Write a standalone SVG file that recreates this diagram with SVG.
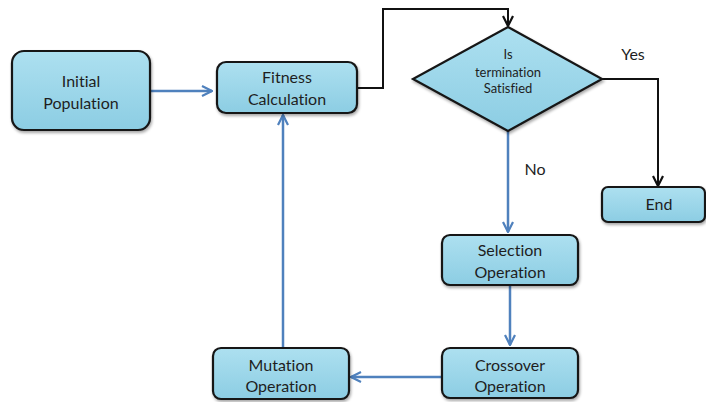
<svg xmlns="http://www.w3.org/2000/svg" width="706" height="402" viewBox="0 0 706 402">
<defs>
<linearGradient id="g" x1="0" y1="0" x2="0" y2="1">
<stop offset="0" stop-color="#ade0f0"/>
<stop offset="1" stop-color="#8ccde3"/>
</linearGradient>
<filter id="sh" x="-10%" y="-10%" width="130%" height="140%">
<feGaussianBlur in="SourceAlpha" stdDeviation="1.5"/>
<feOffset dx="1" dy="2" result="b"/>
<feComponentTransfer><feFuncA type="linear" slope="0.35"/></feComponentTransfer>
<feMerge><feMergeNode/><feMergeNode in="SourceGraphic"/></feMerge>
</filter>
<marker id="ab" viewBox="0 0 12 12" refX="11" refY="6" markerWidth="12" markerHeight="12" markerUnits="userSpaceOnUse" orient="auto">
<path d="M1,1 L11,6 L1,11" fill="none" stroke="#4f81bd" stroke-width="2.2"/>
</marker>
<marker id="ak" viewBox="0 0 12 12" refX="11" refY="6" markerWidth="12" markerHeight="12" markerUnits="userSpaceOnUse" orient="auto">
<path d="M1,1 L11,6 L1,11" fill="none" stroke="#111" stroke-width="2.2"/>
</marker>
</defs>
<style>
.box{fill:url(#g);stroke:#151515;stroke-width:2.2;filter:url(#sh)}
.t{font-family:Lato,"Open Sans","Liberation Sans",sans-serif;font-size:16px;fill:#1e1e1e;text-anchor:middle;font-variant-ligatures:none}
.s{font-size:13px}
.blue{fill:none;stroke:#4f81bd;stroke-width:2.5;marker-end:url(#ab)}
.blk{fill:none;stroke:#111;stroke-width:2;marker-end:url(#ak)}
</style>
<rect width="706" height="402" fill="#fff"/>
<g id="connectors">
<path class="blue" d="M150,91 H212"/>
<path class="blk" d="M357,88 H383 V9 H508 V26"/>
<path class="blk" d="M602,79 H658 V186"/>
<path class="blue" d="M508,131 V232"/>
<path class="blue" d="M510,286 V345"/>
<path class="blue" d="M442,377 H351"/>
<path class="blue" d="M283,348 V115"/>
</g>
<g id="initial">
<rect class="box" x="12" y="51" width="138" height="79" rx="12"/>
<text class="t" x="81" y="87">Initial</text>
<text class="t" x="81" y="109">Population</text>
</g>
<g id="fitness">
<rect class="box" x="217" y="62" width="140" height="51" rx="9"/>
<text class="t" x="287" y="83">Fitness</text>
<text class="t" x="287" y="105">Calculation</text>
</g>
<g id="decision">
<path class="box" d="M508,27 L602,79 L508,131 L413,79 Z" style="stroke-linejoin:miter"/>
<text class="t s" x="508" y="59">Is</text>
<text class="t s" x="508" y="77">termination</text>
<text class="t s" x="508" y="93">Satisfied</text>
</g>
<g id="yes"><text class="t" x="633" y="60">Yes</text></g>
<g id="no"><text class="t" x="535" y="175">No</text></g>
<g id="end">
<rect class="box" x="602" y="187" width="103" height="35" rx="6"/>
<text class="t" x="659" y="210">End</text>
</g>
<g id="selection">
<rect class="box" x="442" y="235" width="136" height="50" rx="8"/>
<text class="t" x="510" y="256">Selection</text>
<text class="t" x="510" y="278">Operation</text>
</g>
<g id="crossover">
<rect class="box" x="442" y="348" width="136" height="50" rx="8"/>
<text class="t" x="510" y="371">Crossover</text>
<text class="t" x="510" y="392">Operation</text>
</g>
<g id="mutation">
<rect class="box" x="213" y="348" width="136" height="51" rx="8"/>
<text class="t" x="281" y="371">Mutation</text>
<text class="t" x="281" y="392">Operation</text>
</g>
</svg>
